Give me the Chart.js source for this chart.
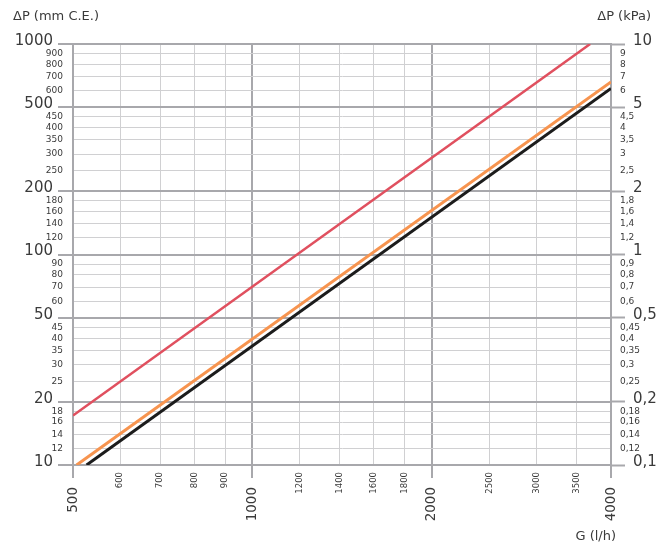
<!DOCTYPE html>
<html>
<head>
<meta charset="utf-8">
<script src="https://cdn.jsdelivr.net/npm/chart.js@4.4.1/dist/chart.umd.min.js"></script>
<style>
  body { margin: 0; background: #fff; }
  #wrap { width: 671px; height: 549px; }
</style>
</head>
<body>
<div id="wrap"><canvas id="myChart" width="671" height="549"></canvas></div>
<script>
// flow (l/h) ticks
const xTicks = [500, 600, 700, 800, 900, 1000, 1200, 1400, 1600, 1800, 2000, 2500, 3000, 3500, 4000];
const xMajor = [500, 1000, 2000, 4000];

// pressure drop ticks, mm C.E. (left) and kPa (right)
const leftTicks = [1000, 900, 800, 700, 600, 500, 450, 400, 350, 300, 250, 200, 180, 160, 140, 120,
  100, 90, 80, 70, 60, 50, 45, 40, 35, 30, 25, 20, 18, 16, 14, 12, 10];
const leftMajor = [1000, 500, 200, 100, 50, 20, 10];
const rightTicks = [10, 9, 8, 7, 6, 5, 4.5, 4, 3.5, 3, 2.5, 2, 1.8, 1.6, 1.4, 1.2,
  1, 0.9, 0.8, 0.7, 0.6, 0.5, 0.45, 0.4, 0.35, 0.3, 0.25, 0.2, 0.18, 0.16, 0.14, 0.12, 0.1];
const rightMajor = [10, 5, 2, 1, 0.5, 0.2, 0.1];

// curves (G l/h, dP mm C.E.)
const redG = [500, 3690];
const redDP = [17.2, 1000];
const orangeG = [507, 4000];
const orangeDP = [10, 660];
const blackG = [527, 4000];
const blackDP = [10, 615];

const FONT = "'DejaVu Sans', sans-serif";
const TXT = '#3a3a3a';
const GRID = '#d0d0d2';
const GRID_MAJOR = '#a8a8ac';

function pts(gs, ps) {
  return gs.map((g, i) => ({x: g, y: ps[i]}));
}
function isMajor(list, v) {
  return list.some(m => Math.abs(m - v) < 1e-9);
}
function fmtKpa(v) {
  return String(v).replace('.', ',');
}

const tickText = {
  id: 'tickText',
  afterDraw(chart) {
    const ctx = chart.ctx;
    const sx = chart.scales.x, sy = chart.scales.y, sy2 = chart.scales.y2;
    ctx.save();
    ctx.fillStyle = TXT;
    ctx.textBaseline = 'middle';

    ctx.textAlign = 'right';
    leftTicks.forEach(v => {
      const py = sy.getPixelForValue(v);
      if (isMajor(leftMajor, v)) {
        ctx.font = '15px ' + FONT;
        ctx.fillText(String(v), 53, py - 3);
      } else {
        ctx.font = '9px ' + FONT;
        ctx.fillText(String(v), 63, py);
      }
    });

    ctx.textAlign = 'left';
    rightTicks.forEach(v => {
      const py = sy2.getPixelForValue(v);
      if (isMajor(rightMajor, v)) {
        ctx.font = '15px ' + FONT;
        ctx.fillText(fmtKpa(v), 633, py - 3);
      } else {
        ctx.font = '9px ' + FONT;
        ctx.fillText(fmtKpa(v), 620, py);
      }
    });

    xTicks.forEach(v => {
      const px = sx.getPixelForValue(v);
      const major = isMajor(xMajor, v);
      ctx.save();
      ctx.translate(px, major ? 487 : 472);
      ctx.rotate(-Math.PI / 2);
      ctx.textAlign = 'right';
      ctx.font = (major ? '13.5px ' : '8.5px ') + FONT;
      ctx.fillText(String(v), 0, 0);
      ctx.restore();
    });

    ctx.font = '13px ' + FONT;
    ctx.textAlign = 'left';
    ctx.fillText('ΔP (mm C.E.)', 13, 17);
    ctx.textAlign = 'right';
    ctx.fillText('ΔP (kPa)', 651, 17);
    ctx.fillText('G (l/h)', 616, 537);
    ctx.restore();
  }
};

const ctx = document.getElementById('myChart');
const chart = new Chart(ctx, {
  type: 'line',
  data: {
    datasets: [
      {data: pts(redG, redDP), borderColor: '#e0505f', borderWidth: 2.5},
      {data: pts(orangeG, orangeDP), borderColor: '#f7944f', borderWidth: 3},
      {data: pts(blackG, blackDP), borderColor: '#1c1c1c', borderWidth: 3}
    ]
  },
  options: {
    responsive: false,
    animation: false,
    devicePixelRatio: 1,
    layout: {padding: {top: 44, left: 0, right: 0, bottom: 0}},
    elements: {point: {radius: 0}, line: {tension: 0}},
    plugins: {legend: {display: false}, tooltip: {enabled: false}},
    scales: {
      x: {
        type: 'logarithmic',
        position: 'bottom',
        min: 500,
        max: 4000,
        afterBuildTicks: axis => { axis.ticks = xTicks.map(v => ({value: v})); },
        afterFit: axis => { axis.height = 84; },
        ticks: {display: false},
        border: {display: true, color: GRID_MAJOR, width: 2},
        grid: {
          color: c => isMajor(xMajor, c.tick.value) ? GRID_MAJOR : GRID,
          lineWidth: c => isMajor(xMajor, c.tick.value) ? 2 : 1,
          tickColor: c => isMajor(xMajor, c.tick.value) ? GRID_MAJOR : 'rgba(0,0,0,0)',
          tickWidth: 2,
          tickLength: 13
        }
      },
      y: {
        type: 'logarithmic',
        position: 'left',
        min: 10,
        max: 1000,
        afterBuildTicks: axis => { axis.ticks = leftTicks.map(v => ({value: v})); },
        afterFit: axis => { axis.width = 73; },
        ticks: {display: false},
        border: {display: true, color: GRID_MAJOR, width: 2},
        grid: {
          color: c => isMajor(leftMajor, c.tick.value) ? GRID_MAJOR : GRID,
          lineWidth: c => isMajor(leftMajor, c.tick.value) ? 2 : 1,
          tickColor: c => isMajor(leftMajor, c.tick.value) ? GRID_MAJOR : 'rgba(0,0,0,0)',
          tickWidth: 2,
          tickLength: 15
        }
      },
      y2: {
        type: 'logarithmic',
        position: 'right',
        min: 0.1,
        max: 10,
        afterBuildTicks: axis => { axis.ticks = rightTicks.map(v => ({value: v})); },
        afterFit: axis => { axis.width = 60; },
        ticks: {display: false},
        border: {display: true, color: GRID_MAJOR, width: 2},
        grid: {
          drawOnChartArea: false,
          tickColor: c => isMajor(rightMajor, c.tick.value) ? GRID_MAJOR : 'rgba(0,0,0,0)',
          tickWidth: 2,
          tickLength: 14
        }
      }
    }
  },
  plugins: [tickText]
});
</script>
</body>
</html>
